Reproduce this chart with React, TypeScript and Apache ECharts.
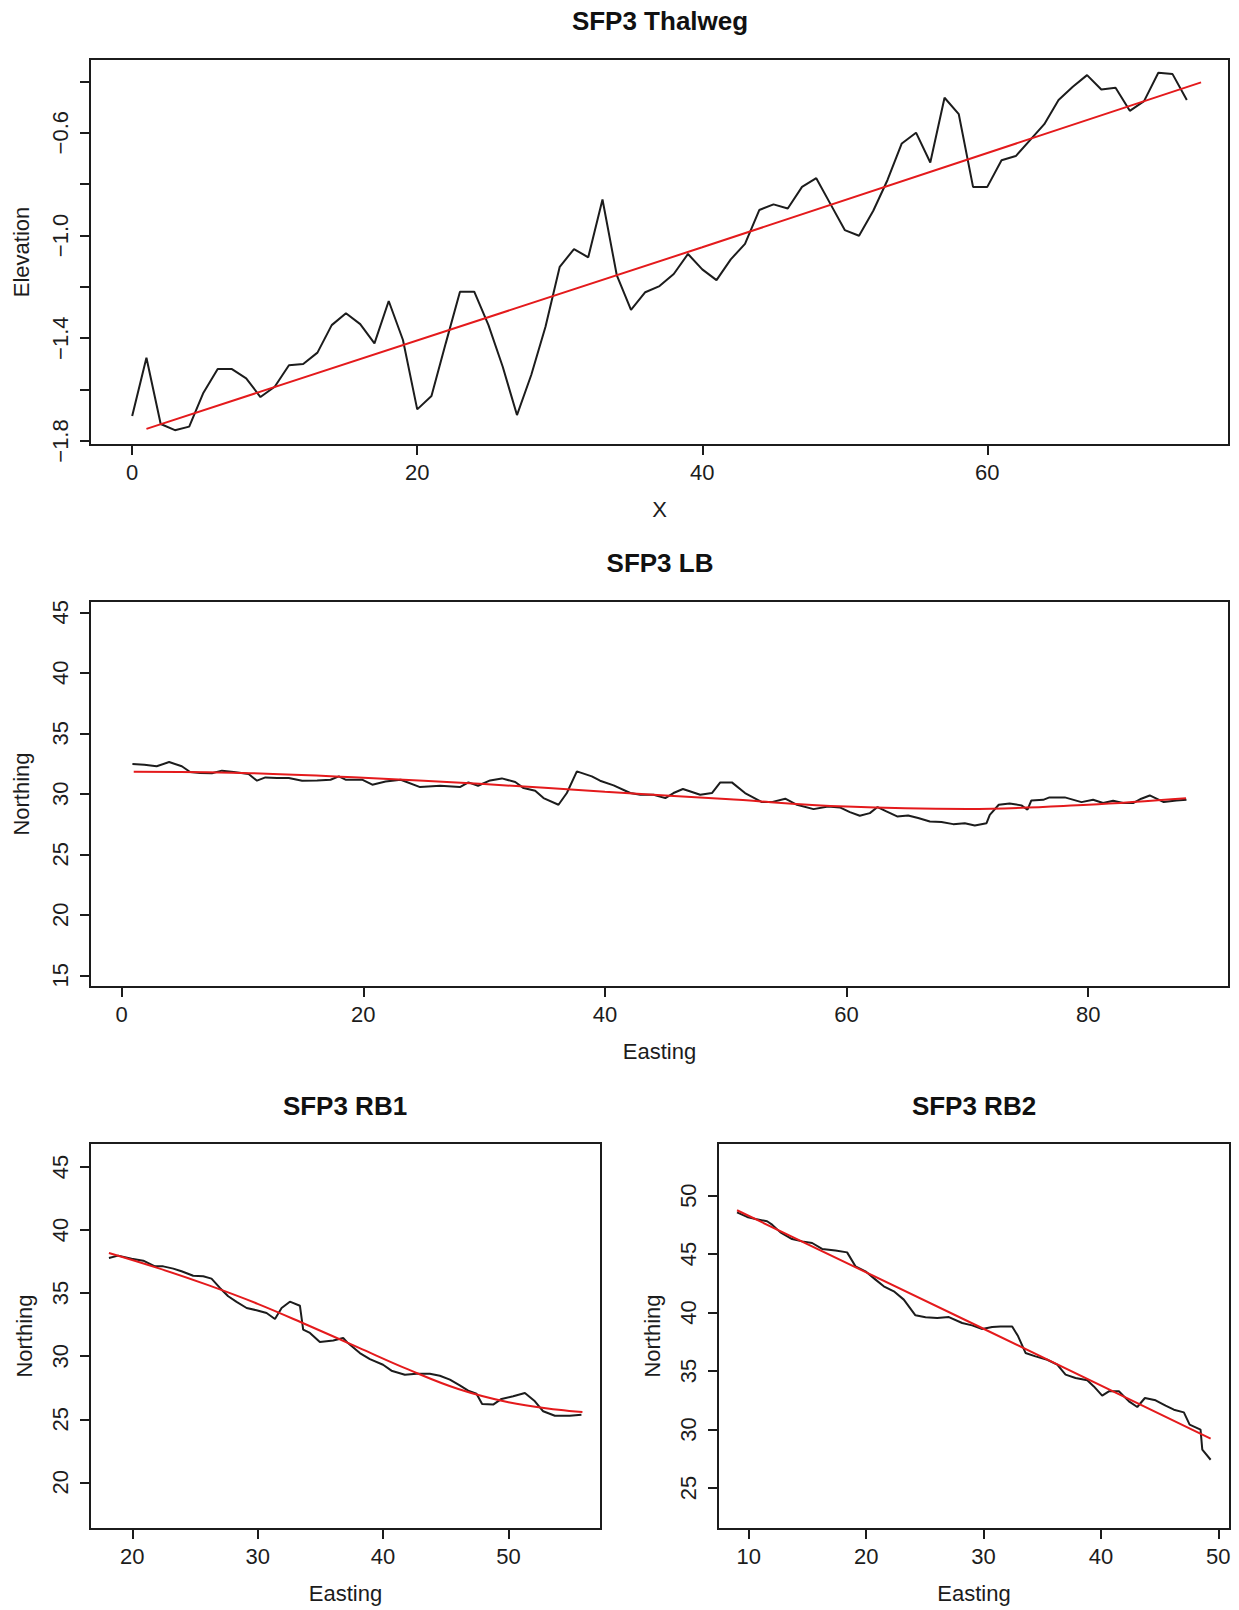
import React, { useEffect, useRef } from "react";
import * as echarts from "echarts";

// ---------- Data ----------
// SFP3 Thalweg: elevation at station X = 0,1,2,...,74
const thalwegElevation = [
  -1.703, -1.476, -1.734, -1.758, -1.744, -1.612, -1.52, -1.52, -1.556, -1.629,
  -1.589, -1.505, -1.5, -1.456, -1.349, -1.303, -1.345, -1.42, -1.255, -1.407,
  -1.677, -1.625, -1.42, -1.219, -1.219, -1.349, -1.511, -1.699, -1.543, -1.355,
  -1.122, -1.053, -1.085, -0.86, -1.154, -1.29, -1.221, -1.197, -1.15, -1.072,
  -1.132, -1.174, -1.093, -1.033, -0.901, -0.879, -0.895, -0.811, -0.777, -0.878,
  -0.979, -1.001, -0.904, -0.784, -0.642, -0.6, -0.716, -0.464, -0.528, -0.811,
  -0.811, -0.707, -0.691, -0.629, -0.567, -0.473, -0.421, -0.376, -0.432, -0.425,
  -0.515, -0.477, -0.367, -0.372, -0.473,
];
const thalwegFitX = [1, 40, 75];
const thalwegFitY = [-1.753, -1.046, -0.404];

// SFP3 LB
const lbEasting = [
  0.89, 1.88, 2.9, 3.93, 4.98, 5.67, 6.5, 7.47, 8.3, 9.27, 10.51, 11.2, 11.9, 12.86,
  13.83, 14.94, 16.18, 17.29, 17.98, 18.53, 19.9, 20.75, 21.85, 23.1, 24.7, 26.37,
  28.0, 28.7, 29.5, 30.5, 31.47, 32.58, 33.27, 34.23, 34.92, 36.16, 36.85, 37.68,
  38.92, 39.6, 40.72, 42.1, 42.93, 44.03, 45.0, 45.68, 46.46, 47.89, 48.86, 49.55,
  50.51, 51.6, 53.0, 53.8, 54.93, 55.9, 57.27, 58.48, 59.45, 60.28, 61.1, 61.93,
  62.57, 63.3, 64.19, 65.1, 65.93, 66.9, 67.86, 68.83, 69.79, 70.62, 71.59, 71.86,
  72.6, 73.5, 74.48, 74.98, 75.3, 76.28, 76.8, 78.07, 79.45, 80.41, 81.24, 82.07,
  82.9, 83.72, 84.4, 85.1, 86.26, 87.3, 88.14,
];
const lbNorthing = [
  32.46, 32.4, 32.27, 32.62, 32.27, 31.8, 31.71, 31.69, 31.91, 31.8, 31.63, 31.08,
  31.35, 31.3, 31.3, 31.08, 31.1, 31.16, 31.44, 31.16, 31.16, 30.75, 31.02, 31.16,
  30.55, 30.66, 30.55, 30.94, 30.66, 31.1, 31.27, 30.97, 30.47, 30.25, 29.64, 29.09,
  30.06, 31.85, 31.44, 31.08, 30.69, 30.06, 29.92, 29.92, 29.64, 30.06, 30.39, 29.92,
  30.06, 30.94, 30.94, 30.06, 29.31, 29.31, 29.59, 29.09, 28.73, 28.95, 28.87, 28.48,
  28.18, 28.4, 28.9, 28.54, 28.13, 28.21, 27.99, 27.71, 27.66, 27.49, 27.57, 27.38,
  27.57, 28.26, 29.09, 29.2, 29.04, 28.68, 29.45, 29.5, 29.7, 29.7, 29.31, 29.5,
  29.23, 29.42, 29.23, 29.23, 29.59, 29.86, 29.31, 29.45, 29.5,
];
const lbFitX = [1, 10, 20, 30, 40, 50, 60, 70, 80, 88.1];
const lbFitY = [31.82, 31.72, 31.32, 30.8, 30.17, 29.56, 28.94, 28.75, 29.09, 29.62];

// SFP3 RB1
const rb1Easting = [
  18.14, 18.88, 19.95, 20.88, 21.81, 22.47, 23.27, 23.93, 24.86, 25.66, 26.32, 26.99,
  27.65, 28.32, 29.12, 29.91, 30.71, 31.38, 31.91, 32.57, 33.37, 33.63, 34.17, 34.96,
  36.03, 36.82, 37.2, 38.15, 38.95, 40.0, 40.67, 41.74, 42.67, 43.73, 44.53, 45.33,
  46.12, 46.79, 47.45, 47.9, 48.78, 49.45, 50.38, 51.31, 52.11, 52.77, 53.7, 54.89,
  55.82,
];
const rb1Northing = [
  37.79, 37.97, 37.73, 37.57, 37.12, 37.12, 36.94, 36.73, 36.38, 36.33, 36.15, 35.41,
  34.75, 34.3, 33.82, 33.64, 33.42, 32.95, 33.82, 34.32, 34.0, 32.1, 31.84, 31.12,
  31.25, 31.44, 31.04, 30.25, 29.77, 29.32, 28.85, 28.53, 28.61, 28.61, 28.45, 28.14,
  27.69, 27.27, 27.03, 26.21, 26.16, 26.61, 26.82, 27.08, 26.42, 25.63, 25.28, 25.28,
  25.36,
];
const rb1FitX = [18.14, 22, 26, 30, 34, 38, 42, 46, 50, 54, 55.9];
const rb1FitY = [38.18, 37.0, 35.65, 34.15, 32.45, 30.7, 28.95, 27.4, 26.35, 25.75, 25.57];

// SFP3 RB2
const rb2Easting = [
  9.0, 9.86, 10.57, 11.56, 11.99, 12.7, 13.69, 14.55, 15.4, 16.25, 17.39, 18.38, 19.09,
  19.94, 20.8, 21.5, 22.36, 23.21, 24.2, 25.06, 26.05, 27.05, 28.18, 29.03, 29.89,
  30.74, 31.45, 32.44, 32.95, 33.58, 34.43, 35.43, 36.28, 36.99, 37.84, 38.84, 39.4,
  40.11, 40.68, 41.53, 42.39, 43.1, 43.75, 44.66, 45.51, 46.22, 47.07, 47.56, 48.49,
  48.64, 49.35,
];
const rb2Northing = [
  48.57, 48.18, 48.0, 47.81, 47.52, 46.86, 46.29, 46.09, 45.95, 45.44, 45.3, 45.15,
  43.96, 43.53, 42.82, 42.25, 41.82, 41.11, 39.77, 39.6, 39.54, 39.62, 39.11, 38.91,
  38.6, 38.77, 38.82, 38.82, 37.97, 36.55, 36.26, 35.97, 35.55, 34.7, 34.41, 34.21,
  33.69, 32.9, 33.27, 33.27, 32.41, 31.93, 32.7, 32.5, 32.04, 31.7, 31.47, 30.42,
  29.99, 28.28, 27.42,
];
const rb2FitX = [9.0, 30, 49.35];
const rb2FitY = [48.75, 38.62, 29.22];

// Tick values
const thalwegXTicks = [0, 20, 40, 60];
const thalwegYTicks = [-1.8, -1.6, -1.4, -1.2, -1.0, -0.8, -0.6, -0.4];
const thalwegYLabels = [-1.8, -1.4, -1.0, -0.6];
const lbXTicks = [0, 20, 40, 60, 80];
const lbYTicks = [15, 20, 25, 30, 35, 40, 45];
const rb1XTicks = [20, 30, 40, 50];
const rb1YTicks = [20, 25, 30, 35, 40, 45];
const rb2XTicks = [10, 20, 30, 40, 50];
const rb2YTicks = [25, 30, 35, 40, 45, 50];

const FONT = '"Liberation Sans", Arial, Helvetica, sans-serif';
const INK = "#1c1c1c";
const RED = "#e41a1c";

const pairs = (xs: number[], ys: number[]) => xs.map((x, i) => [x, ys[i]]);

function fmt(v: number, dec: number) {
  return v.toFixed(dec).replace("-", "\u2212");
}

function xAxis(gi: number, min: number, max: number, ticks: number[], name: string) {
  return {
    type: "value",
    gridIndex: gi,
    min,
    max,
    axisLine: { show: false, onZero: false },
    axisTick: { show: true, inside: false, length: 10, customValues: ticks, lineStyle: { color: INK, width: 2 } },
    axisLabel: { customValues: ticks, fontSize: 22, color: INK, margin: 16, fontFamily: FONT, formatter: (v: number) => fmt(v, 0) },
    splitLine: { show: false },
    name,
    nameLocation: "middle",
    nameGap: 53,
    nameTextStyle: { fontSize: 22, color: INK, fontFamily: FONT },
  };
}

function yAxis(gi: number, min: number, max: number, ticks: number[], labels: number[], name: string, dec: number, nameGap: number) {
  return {
    type: "value",
    gridIndex: gi,
    min,
    max,
    axisLine: { show: false, onZero: false },
    axisTick: { show: true, inside: false, length: 10, customValues: ticks, lineStyle: { color: INK, width: 2 } },
    axisLabel: { customValues: labels, rotate: 90, fontSize: 22, color: INK, margin: 19, fontFamily: FONT, formatter: (v: number) => fmt(v, dec) },
    splitLine: { show: false },
    name,
    nameLocation: "middle",
    nameGap,
    nameTextStyle: { fontSize: 22, color: INK, fontFamily: FONT },
  };
}

function line(gi: number, data: number[][], color: string, smooth: number | boolean = false) {
  return {
    type: "line",
    xAxisIndex: gi,
    yAxisIndex: gi,
    data,
    showSymbol: false,
    symbol: "none",
    smooth,
    lineStyle: { color, width: 2 },
    emphasis: { disabled: true },
  };
}

function title(text: string, x: number, y: number) {
  return {
    type: "text",
    x,
    y,
    style: {
      text,
      font: `bold 26px ${FONT}`,
      fill: "#111",
      align: "center",
      verticalAlign: "middle",
      textAlign: "center",
      textVerticalAlign: "middle",
    },
  };
}

export default function App() {
  const ref = useRef<HTMLDivElement>(null);
  useEffect(() => {
    if (!ref.current) return;
    const chart = echarts.init(ref.current, undefined, { renderer: "svg" });
    const grid = (left: number, top: number, width: number, height: number) => ({
      left, top, width, height, show: true, borderColor: INK, borderWidth: 2, backgroundColor: "transparent", containLabel: false,
    });
    chart.setOption({
      animation: false,
      backgroundColor: "#ffffff",
      textStyle: { fontFamily: FONT },
      grid: [
        grid(90, 59, 1139, 386),
        grid(90, 601, 1139, 386),
        grid(90, 1143, 511, 386),
        grid(718, 1143, 512, 386),
      ],
      xAxis: [
        xAxis(0, -2.96, 76.96, thalwegXTicks, "X"),
        xAxis(1, -2.62, 91.66, lbXTicks, "Easting"),
        xAxis(2, 16.63, 57.38, rb1XTicks, "Easting"),
        xAxis(3, 7.38, 51.0, rb2XTicks, "Easting"),
      ],
      yAxis: [
        yAxis(0, -1.8156, -0.3132, thalwegYTicks, thalwegYLabels, "Elevation", 1, 58),
        yAxis(1, 14.03, 45.93, lbYTicks, lbYTicks, "Northing", 0, 58),
        yAxis(2, 16.3, 46.9, rb1YTicks, rb1YTicks, "Northing", 0, 55),
        yAxis(3, 21.5, 54.5, rb2YTicks, rb2YTicks, "Northing", 0, 55),
      ],
      series: [
        line(0, thalwegElevation.map((v, i) => [i, v]), INK),
        line(0, pairs(thalwegFitX, thalwegFitY), RED),
        line(1, pairs(lbEasting, lbNorthing), INK),
        line(1, pairs(lbFitX, lbFitY), RED, 0.4),
        line(2, pairs(rb1Easting, rb1Northing), INK),
        line(2, pairs(rb1FitX, rb1FitY), RED, 0.4),
        line(3, pairs(rb2Easting, rb2Northing), INK),
        line(3, pairs(rb2FitX, rb2FitY), RED),
      ],
      graphic: [
        title("SFP3 Thalweg", 660, 21),
        title("SFP3 LB", 660, 563),
        title("SFP3 RB1", 345, 1106),
        title("SFP3 RB2", 974, 1106),
      ],
    });
    return () => chart.dispose();
  }, []);
  return (
    <div
      ref={ref}
      style={{ position: "absolute", left: 0, top: 0, width: 1239, height: 1610, background: "#fff" }}
    />
  );
}
